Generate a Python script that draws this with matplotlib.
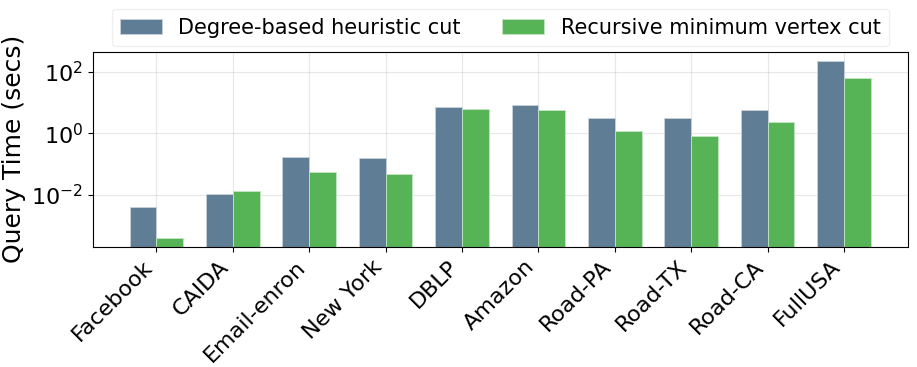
import numpy as np
import matplotlib
matplotlib.use('Agg')
import matplotlib.pyplot as plt

datasets = ['Facebook', 'CAIDA', 'Email-enron', 'New York', 'DBLP',
            'Amazon', 'Road-PA', 'Road-TX', 'Road-CA', 'FullUSA']
degree_cut = [0.0041, 0.011, 0.166, 0.162, 7.0, 8.5, 3.1, 3.07, 5.6, 227]
recursive_cut = [0.0004, 0.0135, 0.0555, 0.049, 6.3, 6.0, 1.19, 0.84, 2.4, 64]

x = np.arange(len(datasets))
width = 0.35

fig = plt.figure(figsize=(9.17, 3.67), dpi=100)
ax = fig.add_axes([0.101, 0.328, 0.889, 0.53])

ax.bar(x - width / 2, degree_cut, width, color='#5f7d95',
       edgecolor='#c8d2da', linewidth=0.6, label='Degree-based heuristic cut')
ax.bar(x + width / 2, recursive_cut, width, color='#56b356',
       edgecolor='#c4e6c4', linewidth=0.6, label='Recursive minimum vertex cut')

ax.set_yscale('log')
ax.set_ylim(2.1e-4, 440)
ax.set_xticks(x)
ax.set_xticklabels(datasets, rotation=45, ha='right')
ax.tick_params(axis='both', labelsize=16)
ax.set_ylabel('Query Time (secs)', fontsize=18)
ax.grid(True, alpha=0.3)
ax.set_axisbelow(True)
ax.minorticks_off()

ax.legend(loc='lower center', bbox_to_anchor=(0.5, 1.0), ncol=2,
          fontsize=15, framealpha=0.3, borderaxespad=0.3)

fig.savefig('out.png', dpi=100)
